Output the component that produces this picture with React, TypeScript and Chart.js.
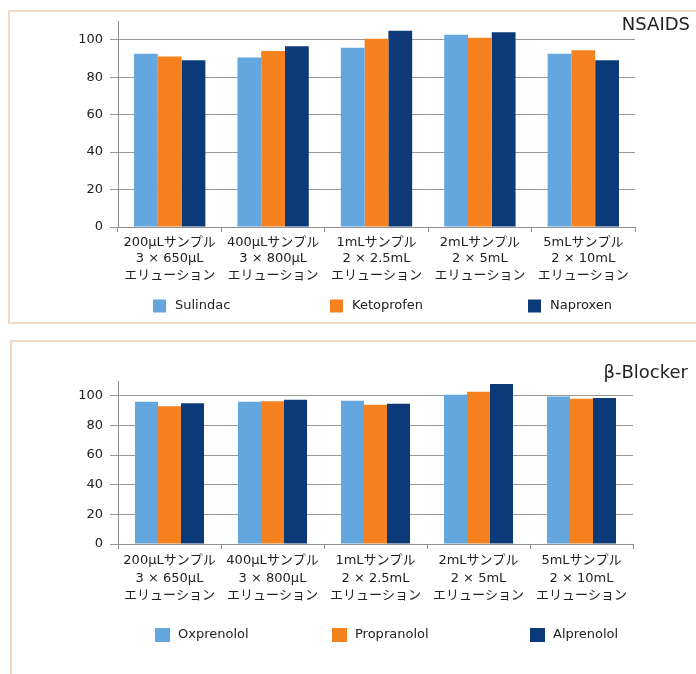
import React, { useEffect, useRef } from "react";
import { Chart, registerables } from "chart.js";

Chart.register(...registerables);

const categories: string[][] = [
  ["200µLサンプル", "3 × 650µL", "エリューション"],
  ["400µLサンプル", "3 × 800µL", "エリューション"],
  ["1mLサンプル", "2 × 2.5mL", "エリューション"],
  ["2mLサンプル", "2 × 5mL", "エリューション"],
  ["5mLサンプル", "2 × 10mL", "エリューション"],
];

const nsaidTitle = "NSAIDS";
const sulindac = [92.5, 90.5, 95.7, 102.7, 92.5];
const ketoprofen = [91, 94, 100.5, 101, 94.4];
const naproxen = [89, 96.5, 104.8, 104, 89];

const betaTitle = "β-Blocker";
const oxprenolol = [96, 96, 96.6, 100.7, 99.6];
const propranolol = [93, 96.3, 94, 102.7, 98];
const alprenolol = [95, 97.3, 94.6, 108, 98.5];

const yTicks = [0, 20, 40, 60, 80, 100];
const yMax = 110;

const LIGHT = "#64a6de";
const ORANGE = "#f5821f";
const NAVY = "#0c3a78";

const FONT = '"DejaVu Sans", "Noto Sans CJK JP", sans-serif';
const TEXT = "#222";

const overlayPlugin = {
  id: "overlay",
  afterDraw(chart: any, _args: any, opts: any) {
    const ctx = chart.ctx;
    ctx.save();
    ctx.font = `${opts.titleSize}px ${FONT}`;
    ctx.fillStyle = TEXT;
    ctx.textAlign = "right";
    ctx.textBaseline = "middle";
    ctx.fillText(opts.title, opts.titleX, opts.titleY);
    ctx.font = `13px ${FONT}`;
    ctx.textAlign = "left";
    chart.data.datasets.forEach((ds: any, i: number) => {
      const x = opts.legendX[i];
      ctx.fillStyle = ds.backgroundColor;
      ctx.fillRect(x, opts.legendY - opts.boxH / 2, opts.boxW, opts.boxH);
      ctx.fillStyle = TEXT;
      ctx.fillText(ds.label, x + opts.boxW + opts.gap, opts.legendY);
    });
    ctx.restore();
  },
};

type Cfg = {
  height: number;
  series: { label: string; data: number[]; color: string }[];
  title: string;
  titleX: number;
  titleY: number;
  top: number;
  bottom: number;
  right: number;
  catPct: number;
  lineHeight: number;
  labelPad: number;
  legendY: number;
  legendX: number[];
  boxW: number;
  boxH: number;
  gap: number;
};

function BarPanel({ cfg, top }: { cfg: Cfg; top: number }) {
  const ref = useRef<HTMLCanvasElement>(null);
  useEffect(() => {
    if (!ref.current) return;
    const W = 696;
    const chart = new Chart(ref.current, {
      type: "bar",
      data: {
        labels: categories,
        datasets: cfg.series.map((s) => ({
          label: s.label,
          data: s.data,
          backgroundColor: s.color,
          borderWidth: 0,
          categoryPercentage: cfg.catPct,
          barPercentage: 1,
        })),
      },
      options: {
        responsive: false,
        animation: false,
        devicePixelRatio: 1,
        layout: { padding: { left: 0, right: W - cfg.right, top: cfg.top, bottom: 0 } },
        plugins: {
          legend: { display: false },
          title: { display: false },
          tooltip: { enabled: false },
          overlay: {
            title: cfg.title,
            titleX: cfg.titleX,
            titleY: cfg.titleY,
            titleSize: 18,
            legendY: cfg.legendY,
            legendX: cfg.legendX,
            boxW: cfg.boxW,
            boxH: cfg.boxH,
            gap: cfg.gap,
          },
        } as any,
        scales: {
          x: {
            offset: true,
            grid: {
              offset: true,
              drawOnChartArea: false,
              drawTicks: true,
              tickLength: 5,
              color: "#909090",
            },
            border: { display: true, color: "#909090" },
            ticks: {
              maxRotation: 0,
              autoSkip: false,
              padding: cfg.labelPad,
              color: TEXT,
              font: { family: FONT, size: 13, lineHeight: cfg.lineHeight },
            },
            afterFit: (s: any) => {
              s.height = cfg.height - cfg.bottom;
            },
          },
          y: {
            min: 0,
            max: yMax,
            afterBuildTicks: (s: any) => {
              s.ticks = yTicks.map((v) => ({ value: v }));
            },
            ticks: {
              includeBounds: false,
              padding: 7,
              color: TEXT,
              font: { family: FONT, size: 13 },
            },
            grid: { color: "#999", tickLength: 8, drawTicks: true },
            border: { display: true, color: "#909090" },
            afterFit: (s: any) => {
              s.width = 118;
            },
          },
        },
      },
      plugins: [overlayPlugin as any],
    });
    return () => chart.destroy();
  }, []);
  return (
    <canvas
      ref={ref}
      width={696}
      height={cfg.height}
      style={{ position: "absolute", left: 0, top, width: 696, height: cfg.height }}
    />
  );
}

const topCfg: Cfg = {
  height: 330,
  series: [
    { label: "Sulindac", data: sulindac, color: LIGHT },
    { label: "Ketoprofen", data: ketoprofen, color: ORANGE },
    { label: "Naproxen", data: naproxen, color: NAVY },
  ],
  title: nsaidTitle,
  titleX: 690,
  titleY: 25,
  top: 21,
  bottom: 227,
  right: 635,
  catPct: 0.69,
  lineHeight: 1.27,
  labelPad: 2,
  legendY: 306,
  legendX: [153, 330, 528],
  boxW: 13,
  boxH: 13,
  gap: 9,
};

const botCfg: Cfg = {
  height: 344,
  series: [
    { label: "Oxprenolol", data: oxprenolol, color: LIGHT },
    { label: "Propranolol", data: propranolol, color: ORANGE },
    { label: "Alprenolol", data: alprenolol, color: NAVY },
  ],
  title: betaTitle,
  titleX: 688,
  titleY: 43,
  top: 51,
  bottom: 214,
  right: 633,
  catPct: 0.67,
  lineHeight: 1.35,
  labelPad: 3,
  legendY: 305,
  legendX: [155, 332, 530],
  boxW: 15,
  boxH: 14,
  gap: 8,
};

export default function App() {
  return (
    <div style={{ position: "absolute", left: 0, top: 0, width: 696, height: 674, overflow: "hidden", background: "#fff" }}>
      <div
        style={{
          position: "absolute",
          left: 8,
          top: 10,
          width: 720,
          height: 310,
          border: "2px solid #f3d8c4",
        }}
      />
      <div
        style={{
          position: "absolute",
          left: 10,
          top: 340,
          width: 720,
          height: 400,
          border: "2px solid #f3d8c4",
        }}
      />
      <BarPanel cfg={topCfg} top={0} />
      <BarPanel cfg={botCfg} top={330} />
    </div>
  );
}
